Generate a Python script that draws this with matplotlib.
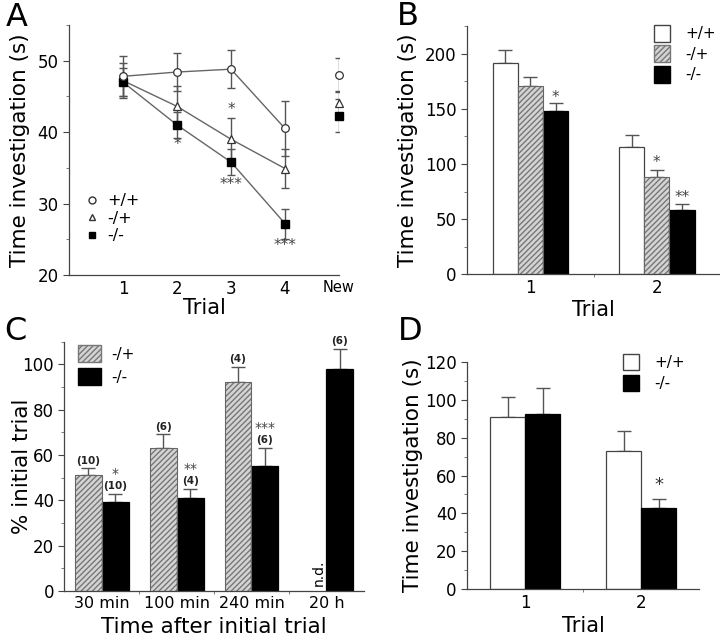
import numpy as np
import matplotlib
matplotlib.use('Agg')
import matplotlib.pyplot as plt
from matplotlib.patches import Patch
from matplotlib.lines import Line2D

# Panel A: habituation curve
a_x = [1, 2, 3, 4, 5]
a_xticklabels = ['1', '2', '3', '4', 'New']
a_wt = [47.8, 48.4, 48.8, 40.5, 48.0]
a_wt_err = [2.8, 2.6, 2.7, 3.9, 2.4]
a_het = [47.2, 43.6, 39.0, 34.9, 44.0]
a_het_err = [2.5, 2.8, 3.0, 2.7, 1.8]
a_ko = [47.0, 41.0, 35.8, 27.2, 42.3]
a_ko_err = [2.0, 1.8, 1.8, 2.1, 2.3]

# Panel B
b_trials = ['1', '2']
b_wt = [192, 115]
b_wt_err = [11, 11]
b_het = [171, 88]
b_het_err = [8, 7]
b_ko = [148, 58]
b_ko_err = [7, 6]

# Panel C
c_times = ['30 min', '100 min', '240 min', '20 h']
c_het = [51.1, 63.1, 92.2]
c_het_err = [3.0, 6.0, 6.6]
c_het_n = ['(10)', '(6)', '(4)']
c_ko = [39.3, 41.1, 55.0, 98.1]
c_ko_err = [3.4, 4.0, 8.0, 8.8]
c_ko_n = ['(10)', '(4)', '(6)', '(6)']
c_ko_sig = ['*', '**', '***', '']

# Panel D
d_trials = ['1', '2']
d_wt = [90.8, 72.8]
d_wt_err = [11.0, 11.0]
d_ko = [92.4, 42.8]
d_ko_err = [13.8, 4.6]

plt.rcParams['font.family'] = 'DejaVu Sans'
ERR_C = '#555555'
LINE_C = '#666666'
HATCH_FACE = '#d4d4d4'
HATCH_C = '#777777'

fig = plt.figure(figsize=(7.2, 6.38), dpi=100)


def style_axes(ax):
    for s in ['top', 'right']:
        ax.spines[s].set_visible(False)
    for s in ['left', 'bottom']:
        ax.spines[s].set_color('#444444')
        ax.spines[s].set_linewidth(0.9)
    ax.tick_params(axis='both', which='major', labelsize=12, length=4,
                   color='#444444', width=0.8)
    ax.tick_params(axis='both', which='minor', length=2, color='#666666',
                   width=0.6)


def hatched_bar(ax, x, h, w):
    ax.bar(x, h, w, facecolor=HATCH_FACE, edgecolor=HATCH_C, hatch='//////',
           linewidth=0, zorder=2)
    ax.bar(x, h, w, facecolor='none', edgecolor='#666666', linewidth=0.8,
           zorder=3)


def up_err(ax, x, y, e):
    ax.errorbar(x, y, yerr=[np.zeros(len(e)), e], fmt='none', ecolor=ERR_C,
                elinewidth=1, capsize=5, capthick=1, zorder=1)


def labels(ax, xlab, ylab, xc, yc, xs=15):
    ax.set_xlabel(xlab, fontsize=xs, va='center')
    ax.xaxis.set_label_coords(0.5, xc)
    ax.set_ylabel(ylab, fontsize=15.5, va='center')
    ax.yaxis.set_label_coords(yc, 0.5)


# ---------------- A ----------------
axA = fig.add_axes([0.0958, 0.569, 0.375, 0.392])
style_axes(axA)
for y, e in [(a_wt, a_wt_err), (a_het, a_het_err), (a_ko, a_ko_err)]:
    axA.errorbar(a_x, y, yerr=e, fmt='none', ecolor=ERR_C, elinewidth=1,
                 capsize=3, capthick=1, zorder=1)
axA.plot(a_x[:4], a_wt[:4], '-', color=LINE_C, lw=1, zorder=2)
axA.plot(a_x[:4], a_het[:4], '-', color=LINE_C, lw=1, zorder=2)
axA.plot(a_x[:4], a_ko[:4], '-', color=LINE_C, lw=1, zorder=2)
axA.plot(a_x, a_wt, 'o', mfc='white', mec='#333333', ms=5.5, mew=0.9,
         zorder=4, clip_on=False)
axA.plot(a_x, a_het, '^', mfc='white', mec='#333333', ms=5.5, mew=0.9,
         zorder=3, clip_on=False)
axA.plot(a_x, a_ko, 's', mfc='black', mec='black', ms=5.5, zorder=3,
         clip_on=False)
axA.set_xlim(0, 5)
axA.set_ylim(20, 55)
axA.set_xticks(a_x)
axA.set_xticklabels(a_xticklabels)
axA.get_xticklabels()[-1].set_fontsize(10.5)
axA.set_yticks([20, 30, 40, 50])
axA.set_yticks([25, 35, 45, 55], minor=True)
axA.tick_params(axis='x', length=0)
labels(axA, 'Trial', 'Time investigation (s)', -0.132, -0.18)
star_kw = dict(ha='center', va='center', fontsize=11, color='#444444')
axA.text(2, 38.3, '*', **star_kw)
axA.text(3, 43.2, '*', **star_kw)
axA.text(3, 32.6, '***', **star_kw)
axA.text(4, 24.1, '***', **star_kw)
handlesA = [Line2D([], [], ls='none', marker='o', mfc='white', mec='#333333', ms=5),
            Line2D([], [], ls='none', marker='^', mfc='white', mec='#333333', ms=5),
            Line2D([], [], ls='none', marker='s', mfc='black', mec='black', ms=5)]
axA.legend(handlesA, ['+/+', '-/+', '-/-'], loc='lower left', frameon=False,
           fontsize=11.5, handlelength=0.8, handletextpad=0.5, labelspacing=0.15,
           bbox_to_anchor=(0.01, 0.07))
fig.text(0.008, 0.972, 'A', fontsize=23, va='center', ha='left')

# ---------------- B ----------------
axB = fig.add_axes([0.649, 0.570, 0.351, 0.389])
style_axes(axB)
xb = np.arange(1, len(b_trials) + 1)
wb = 0.2
axB.bar(xb - wb, b_wt, wb, facecolor='white', edgecolor='#444444', lw=0.9, zorder=2)
hatched_bar(axB, xb, b_het, wb)
axB.bar(xb + wb, b_ko, wb, facecolor='black', edgecolor='black', lw=0.9, zorder=2)
up_err(axB, xb - wb, b_wt, b_wt_err)
up_err(axB, xb, b_het, b_het_err)
up_err(axB, xb + wb, b_ko, b_ko_err)
axB.set_xlim(0.5, 2.5)
axB.set_ylim(0, 225)
axB.set_xticks(xb)
axB.set_xticklabels(b_trials)
axB.set_xticks([1.5], minor=True)
axB.set_yticks([0, 50, 100, 150, 200])
axB.set_yticks([25, 75, 125, 175, 225], minor=True)
axB.tick_params(axis='x', which='major', length=0)
labels(axB, 'Trial', 'Time investigation (s)', -0.144, -0.233)
axB.text(1 + wb, 160, '*', **star_kw)
axB.text(2, 101, '*', **star_kw)
axB.text(2 + wb, 70, '**', **star_kw)
handlesB = [Patch(facecolor='white', edgecolor='#444444'),
            Patch(facecolor=HATCH_FACE, edgecolor=HATCH_C, hatch='//////'),
            Patch(facecolor='black', edgecolor='black')]
axB.legend(handlesB, ['+/+', '-/+', '-/-'], loc='upper right', frameon=False,
           fontsize=11, handlelength=1.1, handleheight=1.3, handletextpad=1.0,
           labelspacing=0.25, bbox_to_anchor=(1.04, 1.06))
fig.text(0.551, 0.974, 'B', fontsize=23, va='center', ha='left')

# ---------------- C ----------------
axC = fig.add_axes([0.0893, 0.0737, 0.416, 0.3907])
style_axes(axC)
xc = np.arange(1, len(c_times) + 1)
wc = 0.36
hatched_bar(axC, xc[:3] - wc / 2, c_het, wc)
axC.bar(xc + wc / 2, c_ko, wc, facecolor='black', edgecolor='black', lw=0.9, zorder=2)
up_err(axC, xc[:3] - wc / 2, c_het, c_het_err)
up_err(axC, xc + wc / 2, c_ko, c_ko_err)
n_kw = dict(ha='center', va='bottom', fontsize=7.5, color='#222222',
            fontweight='bold')
for i in range(3):
    axC.text(xc[i] - wc / 2, c_het[i] + c_het_err[i] + 1.2, c_het_n[i], **n_kw)
for i in range(4):
    top = c_ko[i] + c_ko_err[i] + 1.2
    axC.text(xc[i] + wc / 2, top, c_ko_n[i], **n_kw)
    if c_ko_sig[i]:
        axC.text(xc[i] + wc / 2, top + 4.6, c_ko_sig[i], ha='center',
                 va='bottom', fontsize=10, color='#444444')
axC.text(xc[3] - wc / 2 + 0.08, 2, 'n.d.', rotation=90, ha='center',
         va='bottom', fontsize=10)
axC.set_xlim(0.5, 4.5)
axC.set_ylim(0, 110)
axC.set_xticks(xc)
axC.set_xticklabels(c_times)
axC.set_xticks([1.5, 2.5, 3.5], minor=True)
axC.set_yticks([0, 20, 40, 60, 80, 100])
axC.set_yticks([10, 30, 50, 70, 90, 110], minor=True)
axC.tick_params(axis='x', which='major', length=0, labelsize=11.5)
labels(axC, 'Time after initial trial', '% initial trial', -0.145, -0.141,
       xs=15.5)
handlesC = [Patch(facecolor=HATCH_FACE, edgecolor=HATCH_C, hatch='//////'),
            Patch(facecolor='black', edgecolor='black')]
axC.legend(handlesC, ['-/+', '-/-'], loc='upper left', frameon=False,
           fontsize=11, handlelength=1.5, handleheight=1.3, handletextpad=0.7,
           labelspacing=0.4, bbox_to_anchor=(0.0, 1.04))
fig.text(0.006, 0.481, 'C', fontsize=23, va='center', ha='left')

# ---------------- D ----------------
axD = fig.add_axes([0.649, 0.0773, 0.322, 0.3547])
style_axes(axD)
xd = np.arange(1, len(d_trials) + 1)
wd = 0.3
axD.bar(xd - wd / 2, d_wt, wd, facecolor='white', edgecolor='#444444', lw=0.9, zorder=2)
axD.bar(xd + wd / 2, d_ko, wd, facecolor='black', edgecolor='black', lw=0.9, zorder=2)
up_err(axD, xd - wd / 2, d_wt, d_wt_err)
up_err(axD, xd + wd / 2, d_ko, d_ko_err)
axD.set_xlim(0.5, 2.5)
axD.set_ylim(0, 120)
axD.set_xticks(xd)
axD.set_xticklabels(d_trials)
axD.set_xticks([1.5], minor=True)
axD.set_yticks([0, 20, 40, 60, 80, 100, 120])
axD.set_yticks([10, 30, 50, 70, 90, 110], minor=True)
axD.tick_params(axis='x', which='major', length=0)
labels(axD, 'Trial', 'Time investigation (s)', -0.165, -0.233)
axD.text(2 + wd / 2, 55, '*', ha='center', va='center', fontsize=13, color='#333333')
handlesD = [Patch(facecolor='white', edgecolor='#444444'),
            Patch(facecolor='black', edgecolor='black')]
axD.legend(handlesD, ['+/+', '-/-'], loc='upper right', frameon=False,
           fontsize=11, handlelength=1.1, handleheight=1.3, handletextpad=1.0,
           labelspacing=0.3, bbox_to_anchor=(1.0, 1.1))
fig.text(0.553, 0.48, 'D', fontsize=23, va='center', ha='left')

fig.savefig('out.png', dpi=100)
